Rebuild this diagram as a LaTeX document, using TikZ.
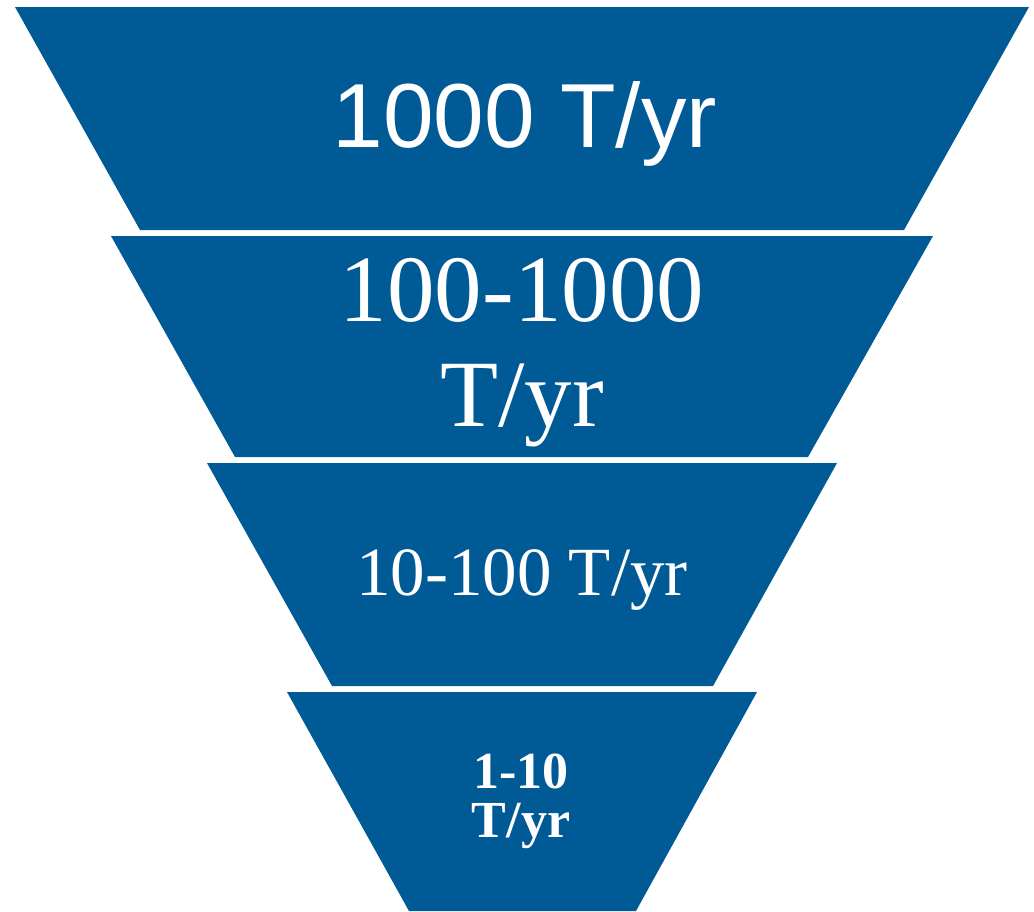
\documentclass[tikz,border=0pt]{standalone}
\usepackage{fontspec}
\setmainfont{Liberation Serif}
\newfontfamily\arialfont{Liberation Sans}
\definecolor{funnelblue}{RGB}{0,90,150}
\begin{document}
\begin{tikzpicture}[x=1pt,y=-1pt,
  tier/.style={fill=funnelblue,draw=none},
  lbl/.style={text=white,inner sep=0pt,align=center,anchor=base}]
\useasboundingbox (0,0) rectangle (1034,911);
\fill[tier] (15,7) -- (1029,7) -- (904,230) -- (140,230) -- cycle;
\fill[tier] (111,236) -- (933,236) -- (808,457) -- (235,457) -- cycle;
\fill[tier] (207,463) -- (837,463) -- (713,686) -- (332,686) -- cycle;
\fill[tier] (287,692) -- (757,692) -- (636,911) -- (409,911) -- cycle;
\node[lbl,font=\arialfont\fontsize{91}{100}\selectfont] (t1) at (525,147) {1000 T/yr};
\node[lbl,font=\fontsize{95}{105}\selectfont] (t2) at (522,426) {100-1000\\T/yr};
\node[lbl,font=\fontsize{69}{75}\selectfont] (t3) at (522,595) {10-100 T/yr};
\node[lbl,font=\bfseries\fontsize{52}{49}\selectfont] (t4) at (521,837) {1-10\\T/yr};
\end{tikzpicture}
\end{document}
